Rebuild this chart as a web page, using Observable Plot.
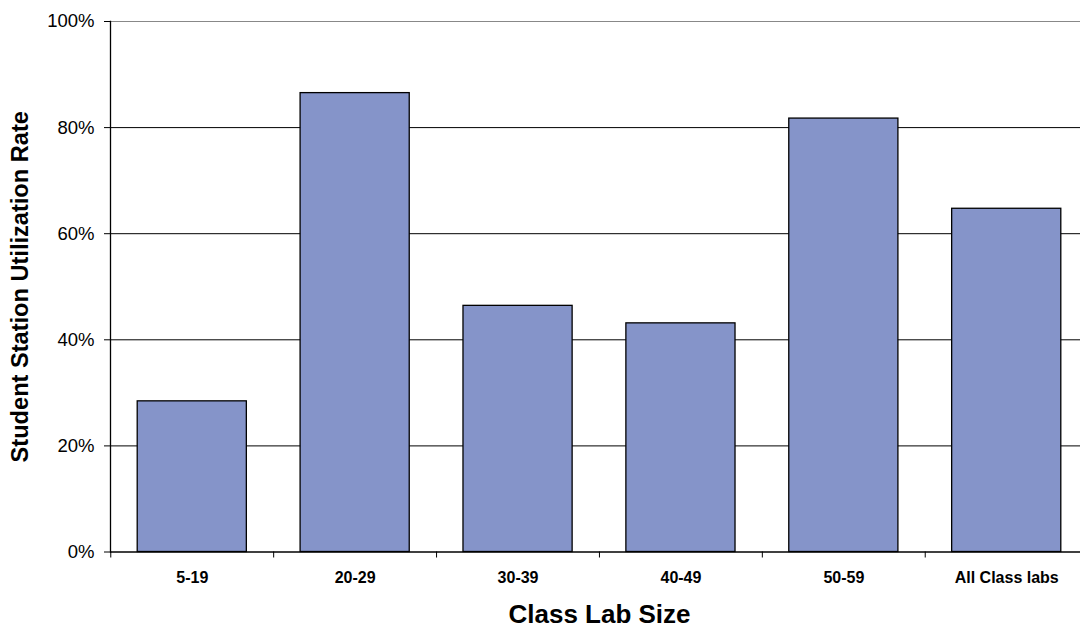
<!DOCTYPE html>
<html>
<head>
<meta charset="utf-8">
<script src="https://cdn.jsdelivr.net/npm/d3@7"></script>
<script src="https://cdn.jsdelivr.net/npm/@observablehq/plot@0.6"></script>
<style>
  html, body { margin: 0; padding: 0; background: white; }
</style>
</head>
<body>
<div id="chart"></div>
<script>
const categories = ["5-19", "20-29", "30-39", "40-49", "50-59", "All Class labs"];
const rates = [0.284, 0.865, 0.464, 0.431, 0.817, 0.647];
const yTicks = [0, 0.2, 0.4, 0.6, 0.8, 1];
const xTitle = "Class Lab Size";
const yTitle = "Student Station Utilization Rate";

const data = categories.map((c, i) => ({category: c, rate: rates[i]}));

const chart = Plot.plot({
  width: 1080,
  height: 626,
  marginLeft: 110,
  marginRight: -8,
  marginTop: 21,
  marginBottom: 74.5,
  style: {fontFamily: "'Liberation Sans', Arial, sans-serif", background: "white", color: "black"},
  x: {domain: categories, paddingInner: 0.33, paddingOuter: 0.167, align: 0.5, round: false, label: null},
  y: {domain: [0, 1], label: null},
  marks: [
    Plot.gridY(yTicks.filter(t => t > 0 && t < 1), {stroke: "black", strokeOpacity: 1, strokeWidth: 1}),
    Plot.gridY([1], {stroke: "#888", strokeOpacity: 1, strokeWidth: 1}),
    Plot.barY(data, {x: "category", y: "rate", fill: "#8594C9", stroke: "black", strokeWidth: 1.3}),
    Plot.ruleY([0], {stroke: "black", strokeWidth: 1.3}),
    Plot.frame({anchor: "left", stroke: "black", strokeWidth: 1.3}),
    Plot.axisY({ticks: yTicks, tickFormat: d3.format(".0%"), tickSize: 6, tickPadding: 10, fontSize: 18.5, label: null}),
    Plot.axisX({tickSize: 6, tickFormat: () => "", dx: -81.5, label: null}),
    Plot.axisX({tickSize: 0, tickPadding: 20, fontSize: 16, fontWeight: "bold", label: null}),
    Plot.text([xTitle], {frameAnchor: "bottom", dy: 63, fontSize: 26, fontWeight: "bold", lineAnchor: "middle"}),
    Plot.text([yTitle], {frameAnchor: "left", dx: -90, rotate: -90, fontSize: 23.6, fontWeight: "bold", textAnchor: "middle", lineAnchor: "middle"})
  ]
});
document.getElementById("chart").appendChild(chart);
</script>
</body>
</html>
